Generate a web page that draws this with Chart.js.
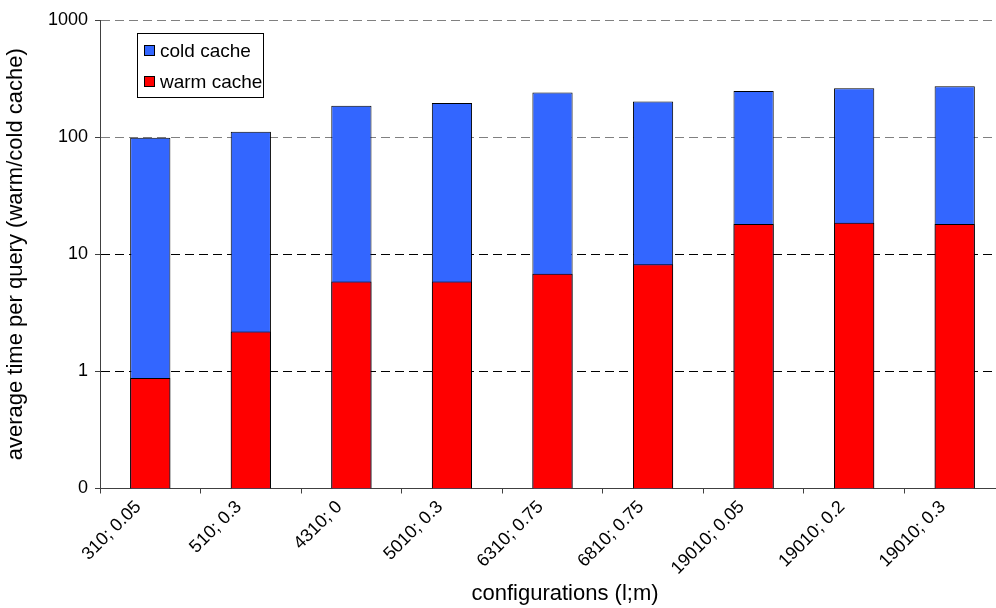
<!DOCTYPE html>
<html>
<head>
<meta charset="utf-8">
<title>Average time per query</title>
<script src="https://cdn.jsdelivr.net/npm/chart.js@4"></script>
<style>
  html, body { margin: 0; padding: 0; background: #fff; overflow: hidden; }
  #wrap { position: relative; width: 1005px; height: 608px; }
</style>
</head>
<body>
<div id="wrap"><canvas id="chart"></canvas></div>
<script>
// Configurations (l;m) on the x axis
const categories = ['310; 0.05', '510; 0.3', '4310; 0', '5010; 0.3', '6310; 0.75',
                    '6810; 0.75', '19010; 0.05', '19010; 0.2', '19010; 0.3'];

// Average time per query, cold cache
const coldCache = [99, 111, 185, 196, 240, 201, 248, 261, 272];

// Average time per query, warm cache
const warmCache = [0.88, 2.19, 5.85, 5.85, 6.8, 8.2, 18.1, 18.6, 18.1];

// Logarithmic y ticks and the text shown for each
const yTickValues = [0.1, 1, 10, 100, 1000];
const yTickLabels = ['0', '1', '10', '100', '1000'];

const yTitle = 'average time per query (warm/cold cache)';
const xTitle = 'configurations (l;m)';

const FONT = 'Liberation Sans, Arial, sans-serif';

// Boxed legend placed inside the plot area (top left), plus the x axis title
const boxLegend = {
  id: 'boxLegend',
  afterDatasetsDraw(chart) {
    const ctx = chart.ctx;
    ctx.save();
    ctx.lineWidth = 1;
    ctx.fillStyle = '#ffffff';
    ctx.strokeStyle = '#000000';
    ctx.fillRect(137.5, 33.5, 126, 64);
    ctx.strokeRect(137.5, 33.5, 126, 64);
    ctx.font = '19px ' + FONT;
    ctx.textBaseline = 'middle';
    ctx.textAlign = 'left';
    [0, 1].forEach((dsIndex, row) => {
      const ds = chart.data.datasets[dsIndex];
      const y = 51 + row * 31;
      ctx.fillStyle = ds.backgroundColor;
      ctx.fillRect(144.5, y - 5.5, 10, 10);
      ctx.strokeRect(144.5, y - 5.5, 10, 10);
      ctx.fillStyle = '#000000';
      ctx.fillText(ds.label, 160, y + 1);
    });
    ctx.restore();
  },
  afterDraw(chart) {
    const ctx = chart.ctx;
    ctx.save();
    ctx.font = '22px ' + FONT;
    ctx.fillStyle = '#000000';
    ctx.textAlign = 'center';
    ctx.textBaseline = 'middle';
    ctx.fillText(xTitle, 565, 594);
    ctx.restore();
  }
};

new Chart(document.getElementById('chart'), {
  type: 'bar',
  data: {
    labels: categories,
    datasets: [
      {
        label: 'cold cache',
        data: coldCache,
        backgroundColor: '#3366FF',
        borderColor: '#000000',
        borderWidth: 1,
        order: 1
      },
      {
        label: 'warm cache',
        data: warmCache,
        backgroundColor: '#FF0000',
        borderColor: '#000000',
        borderWidth: 1,
        order: 0
      }
    ]
  },
  options: {
    responsive: true,
    maintainAspectRatio: false,
    animation: false,
    devicePixelRatio: 1,
    layout: { padding: { top: 20, right: 0, bottom: 0, left: 0 } },
    datasets: {
      bar: { grouped: false, categoryPercentage: 1.0, barPercentage: 0.4 }
    },
    plugins: {
      legend: { display: false },
      tooltip: { enabled: false },
      title: { display: false }
    },
    scales: {
      x: {
        offset: true,
        afterFit(scale) { scale.height = 119.5; },
        border: { display: true, color: '#404040', width: 1 },
        grid: {
          offset: true,
          drawOnChartArea: false,
          drawTicks: true,
          tickLength: 5,
          color: '#404040',
          tickColor: '#404040'
        },
        ticks: {
          autoSkip: false,
          minRotation: 45,
          maxRotation: 45,
          padding: 3,
          labelOffset: -12,
          color: '#000000',
          font: { family: FONT, size: 18 }
        }
      },
      y: {
        type: 'logarithmic',
        min: 0.1,
        max: 1000,
        afterFit(scale) { scale.width = 100; },
        afterBuildTicks(scale) {
          scale.ticks = yTickValues.map(v => ({ value: v }));
        },
        border: { display: true, color: '#404040', width: 1, dash: [9, 5] },
        grid: {
          drawTicks: true,
          tickLength: 5,
          color: ctx => (ctx.tick && ctx.tick.value >= 100 ? '#808080' : '#000000'),
          tickColor: '#404040',
          tickBorderDash: [],
          lineWidth: 1
        },
        ticks: {
          padding: 7,
          color: '#000000',
          font: { family: FONT, size: 18 },
          callback: (value) => {
            const i = yTickValues.indexOf(value);
            return i >= 0 ? yTickLabels[i] : '';
          }
        },
        title: {
          display: true,
          text: yTitle,
          color: '#000000',
          font: { family: FONT, size: 22 },
          padding: { top: 3, bottom: 0 }
        }
      }
    }
  },
  plugins: [boxLegend]
});
</script>
</body>
</html>
